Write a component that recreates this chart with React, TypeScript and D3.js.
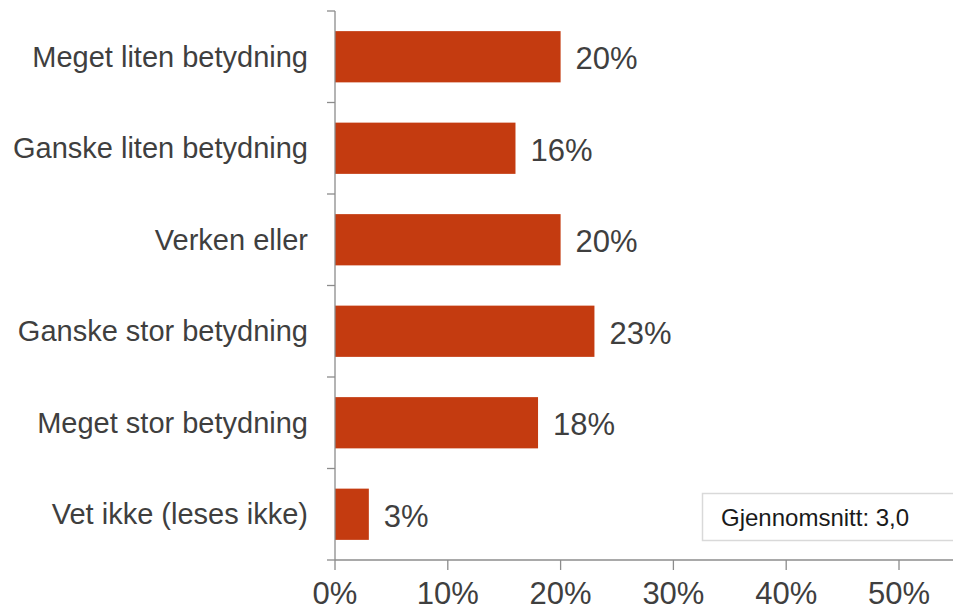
import React, { useEffect, useRef } from "react";
import * as d3 from "d3";

// Chart data
const categories = [
  "Meget liten betydning",
  "Ganske liten betydning",
  "Verken eller",
  "Ganske stor betydning",
  "Meget stor betydning",
  "Vet ikke (leses ikke)",
];
const values = [0.2, 0.16, 0.2, 0.23, 0.18, 0.03];
const xTicks = [0, 0.1, 0.2, 0.3, 0.4, 0.5];
const averageLabel = "Gjennomsnitt: 3,0";

const W = 953;
const H = 611;
const margin = { top: 11, left: 335, bottom: 51 };
const plotRight = 899; // where 50% sits
const barColor = "#C43B10";
const axisColor = "#8c8c8c";
const textColor = "#3f3f3f";
const font = "'Liberation Sans', Arial, sans-serif";

const App: React.FC = () => {
  const svgRef = useRef<SVGSVGElement | null>(null);

  useEffect(() => {
    if (!svgRef.current) return;
    const svg = d3.select(svgRef.current);
    svg.selectAll("*").remove();

    const x = d3.scaleLinear().domain([0, 0.5]).range([margin.left, plotRight]);
    const y = d3
      .scaleBand<string>()
      .domain(categories)
      .range([margin.top, H - margin.bottom])
      .paddingInner(0.44)
      .paddingOuter(0.22);
    const step = y.step();
    const axisY = H - margin.bottom;

    // bars
    svg
      .append("g")
      .selectAll("rect")
      .data(categories)
      .enter()
      .append("rect")
      .attr("x", x(0))
      .attr("y", (d) => y(d)!)
      .attr("width", (_d, i) => x(values[i]) - x(0))
      .attr("height", y.bandwidth())
      .attr("fill", barColor);

    // value labels
    svg
      .append("g")
      .selectAll("text")
      .data(categories)
      .enter()
      .append("text")
      .attr("x", (_d, i) => x(values[i]) + 15)
      .attr("y", (d) => y(d)! + y.bandwidth() / 2)
      .attr("dy", "0.41em")
      .attr("font-family", font)
      .attr("font-size", 31)
      .attr("fill", textColor)
      .text((_d, i) => d3.format(".0%")(values[i]));

    // y axis line + boundary ticks
    const yAxis = svg.append("g");
    yAxis
      .append("line")
      .attr("x1", x(0))
      .attr("x2", x(0))
      .attr("y1", margin.top)
      .attr("y2", axisY)
      .attr("stroke", axisColor)
      .attr("stroke-width", 1.3);
    yAxis
      .selectAll("line.tick")
      .data(d3.range(categories.length + 1))
      .enter()
      .append("line")
      .attr("class", "tick")
      .attr("x1", x(0) - 8)
      .attr("x2", x(0))
      .attr("y1", (i) => margin.top + i * step)
      .attr("y2", (i) => margin.top + i * step)
      .attr("stroke", axisColor)
      .attr("stroke-width", 1.3);

    // category labels
    yAxis
      .selectAll("text")
      .data(categories)
      .enter()
      .append("text")
      .attr("x", 308)
      .attr("y", (d) => y(d)! + y.bandwidth() / 2)
      .attr("dy", "0.35em")
      .attr("text-anchor", "end")
      .attr("font-family", font)
      .attr("font-size", 29)
      .attr("fill", textColor)
      .text((d) => d);

    // x axis
    const xAxis = svg.append("g");
    xAxis
      .append("line")
      .attr("x1", x(0))
      .attr("x2", W)
      .attr("y1", axisY)
      .attr("y2", axisY)
      .attr("stroke", axisColor)
      .attr("stroke-width", 1.3);
    xAxis
      .selectAll("line.tick")
      .data(xTicks)
      .enter()
      .append("line")
      .attr("class", "tick")
      .attr("x1", (d) => x(d))
      .attr("x2", (d) => x(d))
      .attr("y1", axisY)
      .attr("y2", axisY + 10)
      .attr("stroke", axisColor)
      .attr("stroke-width", 1.3);
    xAxis
      .selectAll("text")
      .data(xTicks)
      .enter()
      .append("text")
      .attr("x", (d) => x(d))
      .attr("y", 604)
      .attr("text-anchor", "middle")
      .attr("font-family", font)
      .attr("font-size", 31)
      .attr("fill", textColor)
      .text((d) => d3.format(".0%")(d));

    // average box
    const legend = svg.append("g");
    legend
      .append("rect")
      .attr("x", 702.5)
      .attr("y", 493.5)
      .attr("width", 270)
      .attr("height", 47)
      .attr("fill", "#fff")
      .attr("stroke", "#d9d9d9")
      .attr("stroke-width", 1.5);
    legend
      .append("text")
      .attr("x", 721)
      .attr("y", 526)
      .attr("font-family", font)
      .attr("font-size", 24)
      .attr("fill", "#1a1a1a")
      .text(averageLabel);
  }, []);

  return (
    <svg
      ref={svgRef}
      width={W}
      height={H}
      style={{ position: "absolute", left: 0, top: 0, background: "#fff" }}
    />
  );
};

export default App;
